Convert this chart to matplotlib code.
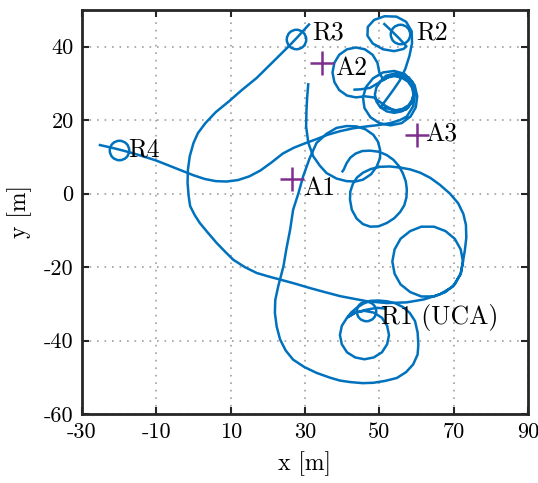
import matplotlib
matplotlib.use("Agg")
import matplotlib.pyplot as plt

plt.rcParams['font.family'] = ['cmr10', 'DejaVu Serif']
plt.rcParams['axes.unicode_minus'] = False
plt.rcParams['mathtext.fontset'] = 'cm'

# trajectory segments (x, y) in metres
seg_a_x = [-25.5, -22, -20, -17, -14, -10, -6, -3, 0, 3, 6, 9, 12, 15, 18, 21, 24, 27, 30, 33, 36, 39.4,
           43, 46.6, 50, 52.9, 55.5, 57.4, 59.1, 59.6, 58.8, 56.8, 54, 51, 48.3, 46.4, 45.6, 46, 47.6,
           50, 53, 56, 58.4, 59.8, 60.2, 59.5, 57.8]
seg_a_y = [13.3, 12.5, 12, 11.2, 10.3, 9.0, 7.4, 6.2, 5.0, 4.0, 3.4, 3.3, 3.7, 4.7, 6.3, 8.5, 10.9, 12.5,
           13.7, 14.8, 16, 17, 17.8, 18.3, 18.7, 19.2, 20, 21, 23.8, 27.4, 30.5, 32.6, 33.4, 33, 31.4,
           29, 26.2, 23.3, 20.8, 19.2, 18.6, 19.2, 21, 23.5, 26.5, 29.5, 31.8]

seg_b_x = [51.1, 53, 55.3, 57.3, 56.5, 54, 51, 48.2, 46.8, 46.9, 48.6, 51.4, 54.6, 57.2, 58.7, 58.8,
           58.1, 57, 55.5, 53.8, 52, 50.3,
           52, 54, 56, 57.7, 58.8, 59.2, 58.8, 57.7, 56, 54, 52, 50.3, 49.2, 48.8, 49.2, 50.3,
           52.7, 54.5, 56.3, 57.9, 58.9, 59.3, 58.9, 57.9, 56.3, 54.5, 52.7, 51.1,
           50, 49.5, 48.2, 46.1, 43.7, 41.3, 39.2, 37.9, 37.4, 37.9, 39.2, 41.3, 43.7, 46.1, 48.5,
           51.5, 54.5, 57.2, 59, 59.6, 59, 57.2, 54.5, 51.8, 50, 47.5, 45, 43]
seg_b_y = [46.4, 44.6, 42.3, 40.1, 39.4, 38.8, 39.3, 40.9, 43, 45.4, 47.3, 48.3, 48.2, 46.8, 44.2, 41,
           37.5, 34, 30.8, 28.3, 25.8, 23.5,
           22.4, 22, 22.4, 23.5, 25.1, 27, 28.9, 30.5, 31.6, 32, 31.6, 30.5, 28.9, 27, 25.1, 23.5,
           23.1, 22.7, 23.1, 24.1, 25.7, 27.5, 29.3, 30.9, 31.9, 32.3, 31.9, 30.9,
           33, 35.6, 37.8, 39.3, 39.8, 39.3, 37.8, 35.6, 33, 30.4, 28.2, 26.7, 26.2, 26.5, 26.2,
           24, 22.3, 22.9, 25, 27.5, 30.2, 32.1, 32.8, 32.1, 30.3, 28.8, 28.4, 28.3]

seg_c_x = [31.3, 29.5, 27.6, 25.8, 23.8, 20.5, 17, 13, 9.5, 6, 3.2, 1.2, 0, -1, -1.5, -1.6, -1.3, -0.9,
           0.3, 1.7, 4, 6.2, 8.5, 10.7, 13.8, 17, 20, 23.3, 27.3, 31.3, 35.3, 39.4, 43, 46.7, 52, 57.4,
           62, 66.3, 69.8, 71.9,
           72.5, 71.9, 70.3, 67.8, 64.7, 61.3, 58.3, 55.7, 54.1, 53.5, 54.1, 55.7, 58.3, 61.3, 64.7,
           67.8, 70.3, 71.9, 72.5,
           73.0, 73.4, 73.3, 72.6, 71.2, 69, 66.3, 63.7, 61, 58.3, 55.6, 52.8, 50.2, 47.7, 45.6, 44,
           42.9, 42.2, 42.1, 42.6, 43.9, 45.6, 47.6, 49.8, 52, 54, 55.6, 56.7, 57.3, 57.4, 57.1, 56.3,
           55.2, 53.8, 52, 49.9, 47.5, 45.4, 43.6, 42.2, 41.2, 40.4, 39.9]
seg_c_y = [46.3, 44.3, 42.2, 40.3, 38.3, 35, 31.5, 28.2, 25.1, 22.2, 19.2, 16.5, 13.8, 10.2, 6.5, 3, -0.7,
           -3.4, -5.8, -8, -10.8, -13.4, -15.8, -18, -20, -21.6, -22.5, -23.4, -24.5, -25.7, -26.8,
           -27.9, -28.6, -29.3, -29.8, -29.6, -28.8, -27.4, -25.3, -21.8,
           -18.5, -15.2, -12.3, -10.2, -9.0, -9.0, -10.2, -12.3, -15.2, -18.5, -21.8, -24.7, -26.8,
           -28.0, -28.0, -26.8, -24.7, -21.8, -18.5,
           -15.5, -12, -8.5, -5.5, -2.6, 0, 2.4, 4.3, 5.7, 6.6, 7.1, 7.4, 7.3, 6.7, 5.7, 4.4,
           2.7, 0.6, -1.6, -4.4, -6.8, -8.3, -9, -8.9, -8, -6.7, -5, -3.2, -1, 1.2, 3.4, 5.6,
           7.6, 9.2, 10.5, 11.4, 11.7, 11.6, 10.9, 9.8, 8.3, 6.5, 5.8]

seg_d_x = [30.9, 30.6, 30.4, 30.3, 30.9, 32.2, 34, 35.8, 38.5, 41.2, 43.5, 45.6, 47.8, 49.3, 50.2, 50.2,
           49.6, 48.4, 46.3, 43.9, 41.2, 38.5, 35.8, 33.1, 31.2, 29.5, 28.2, 26.8, 26, 25, 24.2, 22.8,
           22, 21.9, 22.4, 23.3, 24.8, 26.8, 29.8, 33.1, 36.7, 39.4, 42.1, 45.5, 48.4, 51.5, 54.7, 57.2,
           59.1, 60.3, 60.5, 60.3, 59.6, 58.2, 56.4, 54.2, 52, 49.7, 47.5, 45.6, 43.9, 42.4,
           41.3, 39.9, 39.4, 39.9, 41.3, 43.5, 46, 48.5, 50.7, 52.1, 52.6, 52.1, 50.7, 48.5, 46, 43.5,
           41.6, 43.5, 46.6, 49.3, 52]
seg_d_y = [30.1, 26.5, 22.9, 18.3, 13.8, 10.2, 7.6, 5.6, 4.1, 3.4, 3.3, 3.8, 5.3, 7.4, 9.7, 12, 14.2, 16,
           17.5, 18.3, 18.4, 17.9, 16.3, 13.8, 9.5, 4.7, 0, -4.4, -9.8, -15, -19.8, -25.2, -29, -32.5,
           -36.3, -39.7, -42.7, -45.2, -47.2, -48.8, -50.1, -50.9, -51.3, -51.6, -51.5, -51, -50.2,
           -48.6, -46.5, -43.8, -41.1, -37.8, -34.7, -32.5, -30.9, -29.8, -29.3, -29.1, -29.2, -30,
           -31.1, -32.4,
           -33.8, -36.0, -38.5, -41.0, -43.2, -44.6, -45.1, -44.6, -43.2, -41.0, -38.5, -36.0, -33.8,
           -32.4, -31.9, -32.4, -33.6, -32.4, -31.6, -31.1, -31.3]

rx_names = ['R1 (UCA)', 'R2', 'R3', 'R4']
rx_x = [46.5, 55.5, 27.6, -20]
rx_y = [-32, 43.5, 42.2, 12]

an_names = ['A1', 'A2', 'A3']
an_x = [26.5, 34.6, 60.1]
an_y = [4, 35.6, 16]

x_ticks = [-30, -10, 10, 30, 50, 70, 90]
y_ticks = [-60, -40, -20, 0, 20, 40]

blue = '#0072BD'
purple = '#7E2F8E'

fig = plt.figure(figsize=(5.38, 4.83), dpi=100)
ax = fig.add_axes([82/538, 1-414/483, (528-82)/538, (414-10)/483])

for sx, sy in [(seg_a_x, seg_a_y), (seg_b_x, seg_b_y), (seg_c_x, seg_c_y), (seg_d_x, seg_d_y)]:
    ax.plot(sx, sy, color=blue, lw=1.8, solid_joinstyle='round', solid_capstyle='butt', zorder=3)

ax.plot(rx_x, rx_y, ls='none', marker='o', ms=14, mfc='none', mec=blue, mew=1.8, zorder=4)
ax.plot(an_x, an_y, ls='none', marker='+', ms=17, mec=purple, mew=1.8, zorder=4)

rx_off = [(4.0, -1.7), (4.4, 0.3), (4.2, 1.6), (2.3, 0)]
for n, x, y, (dx, dy) in zip(rx_names, rx_x, rx_y, rx_off):
    ax.text(x + dx, y + dy, n, fontsize=18.5, va='center', ha='left', zorder=5)
an_off = [(3.0, -2.4), (3.5, -1.3), (2.2, 0)]
for n, x, y, (dx, dy) in zip(an_names, an_x, an_y, an_off):
    ax.text(x + dx, y + dy, n, fontsize=18.5, va='center', ha='left', zorder=5)

ax.set_xlim(-30, 90)
ax.set_ylim(-60, 50)
ax.set_xticks(x_ticks)
ax.set_yticks(y_ticks)
ax.tick_params(direction='in', top=True, right=True, length=5, width=1.5, labelsize=16,
               color='#262626', pad=6)
ax.grid(True, color='#a0a0a0', ls=(0, (1, 3.5)), lw=1.2)
for s in ax.spines.values():
    s.set_linewidth(2)
    s.set_color('#262626')
ax.set_xlabel('x [m]', fontsize=17, labelpad=7)
ax.set_ylabel('y [m]', fontsize=17, labelpad=9)

fig.savefig('out.png', dpi=100)
